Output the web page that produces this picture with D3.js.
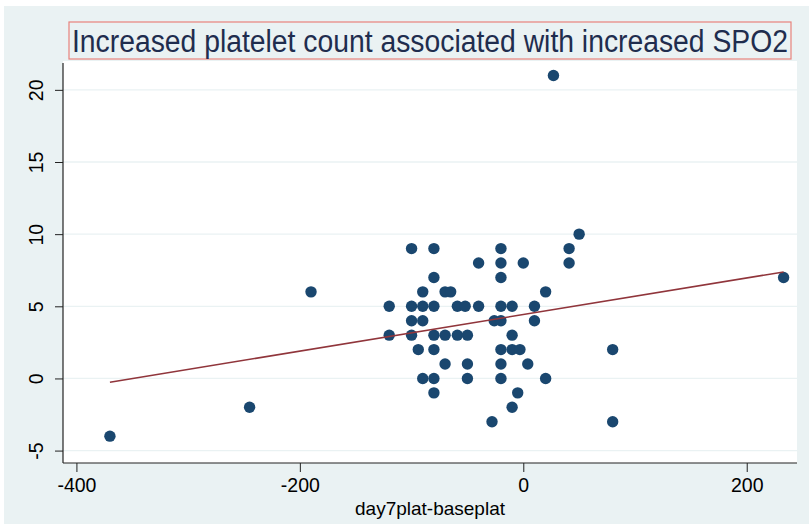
<!DOCTYPE html>
<html>
<head>
<meta charset="utf-8">
<script src="https://cdn.jsdelivr.net/npm/d3@7"></script>
<style>
  body { margin: 0; background: #ffffff; }
  svg { display: block; }
</style>
</head>
<body>
<div id="chart"></div>
<script>
// change in platelets (day 7 - baseline)
var platDiff = [-370, -245, -190, 27, 50, 41, 41, 233, 80, 80, 20, 20, -28,
  -100, -80, -20,
  -40, -20, 0,
  -80, -20,
  -90, -70, -65,
  -120, -100, -90, -80, -59, -52, -40, -20, -10, 10,
  -100, -90, -26, -20, 10,
  -120, -100, -80, -70, -59, -50, -10,
  -94, -80, -20, -10, -3,
  -70, -50, -20, 4,
  -90, -80, -50, -20,
  -80, -5,
  -10];
// change in SPO2
var spo2Diff = [-4, -2, 6, 21, 10, 9, 8, 7, 2, -3, 6, 0, -3,
  9, 9, 9,
  8, 8, 8,
  7, 7,
  6, 6, 6,
  5, 5, 5, 5, 5, 5, 5, 5, 5, 5,
  4, 4, 4, 4, 4,
  3, 3, 3, 3, 3, 3, 3,
  2, 2, 2, 2, 2,
  1, 1, 1, 1,
  0, 0, 0, 0,
  -1, -1,
  -2];

// fitted line end points (lfit)
var fitX = [-370, 233];
var fitY = [-0.26, 7.38];

var xTicks = [-400, -200, 0, 200];
var yTicks = [-5, 0, 5, 10, 15, 20];

var W = 809, H = 524;
var margin = {top: 61, right: 12, bottom: 61, left: 63},
  width = W - margin.left - margin.right,
  height = H - margin.top - margin.bottom;

var svg = d3.select('#chart').append('svg')
  .attr('width', W)
  .attr('height', H);

// graph region background
svg.append('rect')
  .attr('x', 4).attr('y', 6)
  .attr('width', W - 4).attr('height', H - 6)
  .attr('fill', '#eaf2f3');

// title
svg.append('rect')
  .attr('x', 69).attr('y', 22)
  .attr('width', 722).attr('height', 37)
  .attr('fill', 'none')
  .attr('stroke', '#e8827c')
  .attr('stroke-width', 1.2);

svg.append('text')
  .attr('x', 430)
  .attr('y', 52)
  .attr('text-anchor', 'middle')
  .style('font-family', '"Liberation Sans Narrow", "Liberation Sans", Arial, sans-serif')
  .style('font-size', '31px')
  .attr('fill', '#1f2d4e')
  .attr('textLength', 716)
  .attr('lengthAdjust', 'spacingAndGlyphs')
  .text('Increased platelet count associated with increased SPO2');

var g = svg.append('g')
  .attr('transform', 'translate(' + margin.left + ',' + margin.top + ')');

var x = d3.scaleLinear()
  .domain([-412, 245])
  .range([0, width]);

var y = d3.scaleLinear()
  .domain([-5.86, 22])
  .range([height, 0]);

// plot region
g.append('rect')
  .attr('width', width)
  .attr('height', height)
  .attr('fill', '#ffffff');

// horizontal grid
g.selectAll('.grid')
  .data(yTicks)
  .join('line')
  .attr('class', 'grid')
  .attr('x1', 0).attr('x2', width)
  .attr('y1', (d) => y(d)).attr('y2', (d) => y(d))
  .attr('stroke', '#eaf2f3')
  .attr('stroke-width', 1.3);

var font = '"Liberation Sans", Arial, sans-serif';

var xAxis = g.append('g')
  .attr('transform', 'translate(0,' + height + ')')
  .call(d3.axisBottom(x).tickValues(xTicks).tickSize(9).tickPadding(6).tickFormat(d3.format('d')));

var yAxis = g.append('g')
  .call(d3.axisLeft(y).tickValues(yTicks).tickSize(8).tickPadding(6).tickFormat(d3.format('d')));

[xAxis, yAxis].forEach(function(a) {
  a.select('.domain').remove();
  a.selectAll('line').attr('stroke', '#222').attr('stroke-width', 1);
  a.selectAll('text')
    .style('font-family', font)
    .style('font-size', '19.5px')
    .attr('fill', '#000');
});

// x labels use a hyphen like the original
xAxis.selectAll('text').text((d) => String(d));

yAxis.selectAll('.tick text')
  .text((d) => String(d))
  .attr('x', null).attr('dy', null)
  .attr('text-anchor', 'middle')
  .attr('transform', 'translate(-20,0) rotate(-90)');

// axis lines
g.append('line')
  .attr('x1', 0).attr('x2', 0)
  .attr('y1', 2).attr('y2', height)
  .attr('stroke', '#222').attr('stroke-width', 1.2);
g.append('line')
  .attr('x1', 0).attr('x2', width)
  .attr('y1', height).attr('y2', height)
  .attr('stroke', '#222').attr('stroke-width', 1.2);

// x title
svg.append('text')
  .attr('x', margin.left + width / 2)
  .attr('y', 515)
  .attr('text-anchor', 'middle')
  .style('font-family', font)
  .style('font-size', '19px')
  .attr('fill', '#000')
  .text('day7plat-baseplat');

var pts = platDiff.map(function(d, i) { return {x: d, y: spo2Diff[i]}; });

g.selectAll('.dot')
  .data(pts)
  .join('circle')
  .attr('class', 'dot')
  .attr('cx', (d) => x(d.x))
  .attr('cy', (d) => y(d.y))
  .attr('r', 5.7)
  .attr('fill', '#1a476f');

var fit = fitX.map(function(d, i) { return [d, fitY[i]]; });

g.append('path')
  .datum(fit)
  .attr('d', d3.line().x((d) => x(d[0])).y((d) => y(d[1])))
  .attr('fill', 'none')
  .attr('stroke', '#90353b')
  .attr('stroke-width', 1.6);
</script>
</body>
</html>
